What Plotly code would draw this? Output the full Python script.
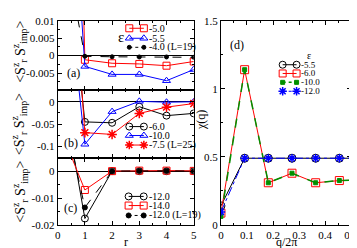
import plotly.graph_objects as go

W, H = 357, 248
def px(x): return x / W
def py(y): return 1 - y / H

# ---------------- data ----------------
r_vals = [0, 1, 2, 3, 4, 5]

# panel (a)
a_eps_m50 = [0.29, -0.0012, -0.0022, -0.0024, -0.0029, -0.0017]
a_eps_m55 = [0.115, -0.0031, -0.0054, -0.0054, -0.0072, -0.0040]
a_eps_m40_L19 = [0.041, -0.0002, -0.00035, -0.0004, -0.0004, -0.0005]

# panel (b)
b_eps_m60 = [0.54, -0.045, -0.047, -0.011, -0.031, -0.026]
b_eps_m100 = [0.47, -0.095, -0.022, 0.001, -0.001, 0.0]
b_eps_m75_L25 = [0.78, -0.069, -0.073, -0.026, -0.012, -0.004]

# panel (c)
c_eps_m120 = [0.040, -0.0176, 0.0, 0.0, 0.0, 0.0]
c_eps_m140 = [0.018, -0.007, 0.0, 0.0002, 0.0002, 0.0001]
c_eps_m120_L19 = [0.032, -0.0135, 0.0, 0.0001, 0.0001, 0.0]

# panel (d)
q_vals = [0.0, 0.0909, 0.1818, 0.2727, 0.3636, 0.4545, 0.5455]
d_eps_m55 = [0.14, 0.49, 0.49, 0.49, 0.49, 0.49, 0.49]
d_eps_m60 = [0.087, 1.14, 0.31, 0.38, 0.31, 0.326, 0.33]
d_eps_m100 = [0.063, 1.14, 0.31, 0.38, 0.31, 0.326, 0.33]
d_eps_m120 = [0.096, 0.49, 0.49, 0.49, 0.49, 0.49, 0.49]

a_labels = ["-5.0", "-5.5", "-4.0 (L=19)"]
b_labels = ["-6.0", "-10.0", "-7.5 (L=25)"]
c_labels = ["-12.0", "-14.0", "-12.0 (L=19)"]
d_labels = ["-5.5", "-6.0", "-10.0", "-12.0"]

a_ticks = [0.01, 0.005, 0, -0.005]
a_ticktext = ["0.01", "0.005", "0", "-0.005"]
b_ticks = [0, -0.05, -0.1]
b_ticktext = ["0", "-0.05", "-0.1"]
c_ticks = [0, -0.01, -0.02]
c_ticktext = ["0", "-0.01", "-0.02"]
r_ticks = [0, 1, 2, 3, 4, 5]
q_ticks = [0, 0.1, 0.2, 0.3, 0.4, 0.5]
q_ticktext = ["0", "0.1", "0.2", "0.3", "0.4", "0.5"]
chi_ticks = [0, 0.5, 1, 1.5]
chi_ticktext = ["0", "0.5", "1", "1.5"]

RED, BLUE, BLACK, GREEN = "#ff0000", "#0000ff", "#000000", "#009000"
FONT = "Liberation Serif"

# style per series: (color, symbol, size, dash, line width, marker line width)
ST = {
    "red_sq": (RED, "square-open", 7, "solid", 1, 1),
    "blue_tri": (BLUE, "triangle-up-open", 7, "solid", 1, 1),
    "blk_dot": (BLACK, "circle", 4, "dash", 1, 1),
    "blk_circ": (BLACK, "circle-open", 7, "solid", 1, 1),
    "red_star": (RED, "asterisk-open", 8, "solid", 1, 1.5),
    "blk_dot5": (BLACK, "circle", 5, "dash", 1, 1),
    "d_circ": (BLACK, "circle-open", 8, "solid", 1, 1),
    "d_sq": (RED, "square-open", 8, "solid", 1, 1),
    "d_green": (GREEN, "square", 4, "dash", 1.5, 1),
    "d_blue": (BLUE, "asterisk-open", 7, "dashdot", 1, 1.5),
}

fig = go.Figure()

def add(x, y, name, xa, ya, st):
    color, symbol, size, dash, lw, mlw = ST[st]
    fig.add_trace(go.Scatter(
        x=x, y=y, name=name, xaxis=xa, yaxis=ya, showlegend=False,
        mode="lines+markers",
        line=dict(color=color, width=lw, dash=dash),
        marker=dict(symbol=symbol, size=size, color=color,
                    line=dict(color=color, width=mlw)),
        cliponaxis=True))

add(r_vals, a_eps_m50, a_labels[0], "x", "y", "red_sq")
add(r_vals, a_eps_m55, a_labels[1], "x", "y", "blue_tri")
add(r_vals, a_eps_m40_L19, a_labels[2], "x", "y", "blk_dot")
add(r_vals, b_eps_m60, b_labels[0], "x2", "y2", "blk_circ")
add(r_vals, b_eps_m100, b_labels[1], "x2", "y2", "blue_tri")
add(r_vals, b_eps_m75_L25, b_labels[2], "x2", "y2", "red_star")
add(r_vals, c_eps_m120, c_labels[0], "x3", "y3", "blk_circ")
add(r_vals, c_eps_m140, c_labels[1], "x3", "y3", "red_sq")
add(r_vals, c_eps_m120_L19, c_labels[2], "x3", "y3", "blk_dot5")
add(q_vals, d_eps_m55, d_labels[0], "x4", "y4", "d_circ")
add(q_vals, d_eps_m60, d_labels[1], "x4", "y4", "d_sq")
add(q_vals, d_eps_m100, d_labels[2], "x4", "y4", "d_green")
add(q_vals, d_eps_m120, d_labels[3], "x4", "y4", "d_blue")

tickfont = dict(family=FONT, size=11, color="black")

def xaxis(dom, anchor, rng, tv, tt, show):
    return dict(domain=dom, anchor=anchor, range=rng, tickvals=tv, ticktext=tt,
                showticklabels=show, ticks="inside", ticklen=4, tickcolor="black",
                mirror="allticks", showline=True, linecolor="black", linewidth=1,
                showgrid=False, zeroline=False, tickfont=tickfont,
                minor=dict(ticks="inside", ticklen=2, dtick=(tv[1]-tv[0])/2, tickcolor="black", showgrid=False))

def yaxis(dom, anchor, rng, tv, tt, mdt, zl=True):
    return dict(domain=dom, anchor=anchor, range=rng, tickvals=tv, ticktext=tt,
                ticks="inside", ticklen=4, tickcolor="black",
                mirror="allticks", showline=True, linecolor="black", linewidth=1,
                showgrid=False, zeroline=zl, zerolinecolor="black", zerolinewidth=1,
                tickfont=tickfont,
                minor=dict(ticks="inside", ticklen=2, dtick=mdt, tickcolor="black", showgrid=False))

xl = [px(48), px(188)]
xr = [px(216), px(350)]
fig.update_layout(
    xaxis=xaxis(xl, "y", [0, 5], r_ticks, [str(v) for v in r_ticks], False),
    yaxis=yaxis([py(80), py(7)], "x", [-0.0099, 0.01], a_ticks, a_ticktext, 0.0025),
    xaxis2=xaxis(xl, "y2", [0, 5], r_ticks, [str(v) for v in r_ticks], False),
    yaxis2=yaxis([py(151), py(80)], "x2", [-0.125, 0.026], b_ticks, b_ticktext, 0.025),
    xaxis3=xaxis(xl, "y3", [0, 5], r_ticks, [str(v) for v in r_ticks], True),
    yaxis3=yaxis([py(221.7), py(151)], "x3", [-0.02, 0.005], c_ticks, c_ticktext, 0.005),
    xaxis4=xaxis(xr, "y4", [0, 0.5], q_ticks, q_ticktext, True),
    yaxis4=yaxis([py(221.7), py(7)], "x4", [0, 1.5], chi_ticks, chi_ticktext, 0.25, zl=False),
    # overlay in pixel units for legend keys
    xaxis5=dict(domain=[0, 1], anchor="y5", range=[0, W], visible=False, fixedrange=True),
    yaxis5=dict(domain=[0, 1], anchor="x5", range=[H, 0], visible=False, fixedrange=True),
)

def legend_block(x0, x1, ys, labels, styles, fsize):
    for y, lab, st in zip(ys, labels, styles):
        color, symbol, size, dash, lw, mlw = ST[st]
        fig.add_trace(go.Scatter(
            x=[x0, x1], y=[y, y], xaxis="x5", yaxis="y5", showlegend=False,
            mode="lines+markers", hoverinfo="skip", cliponaxis=False,
            line=dict(color=color, width=lw, dash="dot" if dash != "solid" else "solid"),
            marker=dict(symbol=symbol, size=min(size, 7), color=color,
                        line=dict(color=color, width=mlw))))
        fig.add_annotation(x=px(x1 + 3), y=py(y), xref="paper", yref="paper", text=lab,
                           showarrow=False, xanchor="left", yanchor="middle",
                           font=dict(family=FONT, size=fsize, color="black"))

legend_block(121.7, 136.7, [15, 25.5, 35], a_labels, ["red_sq", "blue_tri", "blk_dot"], 10)
legend_block(121.7, 136.7, [118.3, 127.7, 137.7], b_labels, ["blk_circ", "blue_tri", "red_star"], 10)
legend_block(121.0, 136.5, [191.7, 201.3, 211.7], c_labels, ["blk_circ", "red_sq", "blk_dot5"], 10)
legend_block(279.5, 293.8, [53.3, 62.5, 71.8, 81.2], d_labels, ["d_circ", "d_sq", "d_green", "d_blue"], 9)

fig.update_layout(
    width=W, height=H, margin=dict(l=0, r=0, t=0, b=0),
    paper_bgcolor="white", plot_bgcolor="rgba(0,0,0,0)",
    showlegend=False,
)

def ann(x, y, text, size=11, angle=0):
    fig.add_annotation(x=px(x), y=py(y), xref="paper", yref="paper", text=text,
                       showarrow=False, textangle=angle,
                       font=dict(family=FONT, size=size, color="black"),
                       xanchor="center", yanchor="middle")

ytitle = "&lt;S<sup>z</sup><sub>r</sub> S<sup>z</sup><sub>imp</sub>&gt;"
ann(9, 40, ytitle, 14, -90)
ann(9, 116, ytitle, 14, -90)
ann(9, 187, ytitle, 14, -90)
ann(118, 240, "r", 12)
ann(283, 240, "q/2π", 12)
ann(195, 112, "χ(q)", 12, -90)
ann(64, 62, "(a)", 12)
ann(61.5, 136, "(b)", 12)
ann(61.5, 204, "(c)", 12)
ann(233, 33, "(d)", 12)
ann(113.5, 24, "ε", 15)
ann(307, 44, "ε", 10)

fig.write_html("out.html")
